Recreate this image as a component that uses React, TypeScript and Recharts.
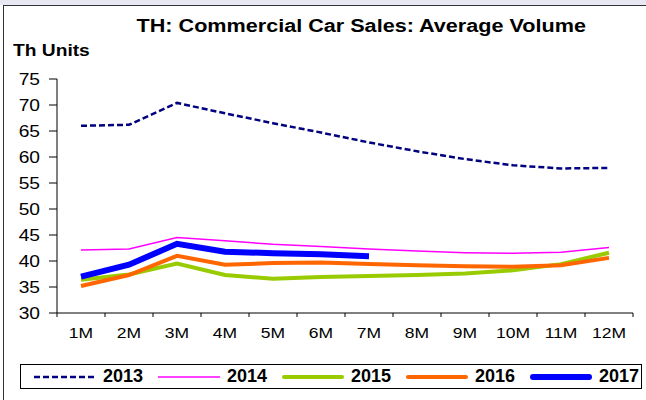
import { LineChart, Line, XAxis, YAxis } from "recharts";

const months = ["1M", "2M", "3M", "4M", "5M", "6M", "7M", "8M", "9M", "10M", "11M", "12M"];
const yTicks = [30, 35, 40, 45, 50, 55, 60, 65, 70, 75];

const s2013 = [66.0, 66.2, 70.4, 68.4, 66.5, 64.7, 62.8, 61.1, 59.6, 58.4, 57.8, 57.9];
const s2014 = [42.1, 42.3, 44.5, 43.9, 43.2, 42.8, 42.3, 41.9, 41.6, 41.5, 41.7, 42.6];
const s2015 = [36.4, 37.4, 39.5, 37.3, 36.6, 36.9, 37.1, 37.3, 37.6, 38.2, 39.4, 41.6];
const s2016 = [35.2, 37.3, 41.0, 39.3, 39.6, 39.7, 39.4, 39.2, 39.0, 38.9, 39.2, 40.6];
const s2017 = [37.0, 39.3, 43.3, 41.8, 41.5, 41.3, 40.9];

const series = [
  { key: "y2013", name: "2013", values: s2013, color: "#000080", width: 2.5, dash: "6 3" },
  { key: "y2014", name: "2014", values: s2014, color: "#FF00FF", width: 1.5, dash: undefined },
  { key: "y2015", name: "2015", values: s2015, color: "#99CC00", width: 4, dash: undefined },
  { key: "y2016", name: "2016", values: s2016, color: "#FF6600", width: 4, dash: undefined },
  { key: "y2017", name: "2017", values: s2017, color: "#0000FF", width: 6, dash: undefined },
];

const data = months.map((m, i) => {
  const row: Record<string, string | number | undefined> = { month: m };
  series.forEach((s) => {
    row[s.key] = s.values[i];
  });
  return row;
});

const FONT = "'Liberation Sans', Arial, sans-serif";
const BAND = 48;
const STRETCH = 1.2;

// ticks sit between the months, like the Excel original
function MonthTick(props: any) {
  const { x, y, payload, index } = props;
  const axisY = y - 15;
  return (
    <g>
      <line x1={x - BAND / 2} y1={axisY} x2={x - BAND / 2} y2={axisY + 4} stroke="#000" />
      {index === months.length - 1 && (
        <line x1={x + BAND / 2} y1={axisY} x2={x + BAND / 2} y2={axisY + 4} stroke="#000" />
      )}
      <text
        transform={`translate(${x},${y}) scale(1.25,1)`}
        dy="0.71em"
        textAnchor="middle"
        fontSize={14}
        fill="#000"
        fontFamily={FONT}
      >
        {payload.value}
      </text>
    </g>
  );
}

function ValueTick(props: any) {
  const { x, y, payload } = props;
  return (
    <text
      transform={`translate(${x},${y}) scale(${STRETCH},1)`}
      dy="0.355em"
      textAnchor="end"
      fontSize={16}
      fill="#000"
      fontFamily={FONT}
    >
      {payload.value}
    </text>
  );
}

export default function App() {
  return (
    <div style={{ position: "absolute", left: 0, top: 0, width: 646, height: 400, background: "#fff", fontFamily: FONT }}>
      <div style={{ position: "absolute", left: 0, top: 0, width: 646, height: 5, background: "#e8e8f3" }} />
      <div style={{ position: "absolute", left: 3, top: 5, width: 643, height: 395, borderTop: "1px solid #333", borderLeft: "1px solid #333" }} />
      <div style={{ position: "absolute", left: 0, top: 15.5, width: 723, textAlign: "center" }}>
        <span style={{ display: "inline-block", fontWeight: "bold", fontSize: 18, transform: `scaleX(${STRETCH})` }}>
          TH: Commercial Car Sales: Average Volume
        </span>
      </div>
      <div
        style={{
          position: "absolute",
          left: 13,
          top: 41.5,
          fontWeight: "bold",
          fontSize: 16,
          transform: `scaleX(${STRETCH})`,
          transformOrigin: "left",
          whiteSpace: "nowrap",
        }}
      >
        Th Units
      </div>
      <div style={{ position: "absolute", left: 0, top: 0 }}>
        <LineChart width={646} height={400} data={data} margin={{ top: 79, right: 13, left: 7, bottom: 57 }}>
          <XAxis
            dataKey="month"
            height={30}
            padding={{ left: BAND / 2, right: BAND / 2 }}
            tickLine={false}
            tickSize={4}
            tickMargin={11}
            interval={0}
            axisLine={{ stroke: "#000" }}
            tick={<MonthTick />}
          />
          <YAxis
            domain={[30, 75]}
            ticks={yTicks}
            interval={0}
            width={50}
            tickSize={8}
            tickMargin={9}
            axisLine={{ stroke: "#000" }}
            tickLine={{ stroke: "#000" }}
            tick={<ValueTick />}
          />
          {series.map((s) => (
            <Line
              key={s.key}
              dataKey={s.key}
              type="linear"
              stroke={s.color}
              strokeWidth={s.width}
              strokeDasharray={s.dash}
              dot={false}
              isAnimationActive={false}
              connectNulls={false}
            />
          ))}
        </LineChart>
      </div>
      <div
        style={{
          position: "absolute",
          left: 20,
          top: 364,
          width: 620,
          height: 23,
          border: "1px solid #000",
          fontWeight: "bold",
          fontSize: 18,
        }}
      >
        {series.map((s, i) => (
          <div
            key={s.key}
            style={{ position: "absolute", left: 13 + i * 124, top: 0, height: 23, display: "flex", alignItems: "center" }}
          >
            <svg width={62} height={10} style={{ marginRight: 7 }}>
              <line
                x1={s.width > 3 ? s.width / 2 : 0}
                y1={5}
                x2={s.width > 3 ? 62 - s.width / 2 : 62}
                y2={5}
                stroke={s.color}
                strokeWidth={s.width}
                strokeDasharray={s.dash}
                strokeLinecap={s.width > 3 ? "round" : "butt"}
              />
            </svg>
            <span>{s.name}</span>
          </div>
        ))}
      </div>
    </div>
  );
}
